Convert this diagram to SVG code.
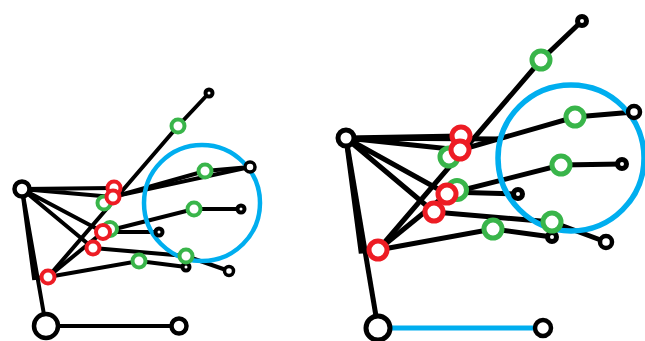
<svg xmlns="http://www.w3.org/2000/svg" width="645" height="341" viewBox="0 0 645 341">
<style>
.a{fill:none;stroke:#000;stroke-linejoin:miter;stroke-linecap:butt}
.l{stroke-width:4px}.r{stroke-width:5px}
.n{fill:#fff;stroke:#000}
.t{fill:#fff;stroke:#000;stroke-width:4.5px}
.g{fill:#fff;stroke:#39b54a}
.e{fill:#fff;stroke:#ed1c24}
.h{fill:none;stroke:#00aeef}
</style>
<g id="connectors-left" class="a l">
<path d="M22 189L46 326L179 326"/>
<path d="M22 189L34 278L48 277"/>
<path d="M22 189L114 188M22 189L113 197M22 189L93 248M22 189L103 232"/>
<path d="M48 277L178 126L209 93"/>
<path d="M48 277L103 232"/>
<path d="M113 197L205 171L250 167"/>
<path d="M103 232L194 209L241 209"/>
<path d="M93 248L186 256L229 271"/>
<path d="M48 277L139 261L186 267"/>
<path d="M104 232L159 232"/>
<path d="M114 188L112 197L250 167"/>
</g>
<g id="connectors-right" class="a r">
<path d="M346 138L378 328"/>
<path d="M346 138L361 251L378 250"/>
<path d="M346 138L461 136M346 138L460 150M346 138L434 212M346 138L447 194M346 138L500 139"/>
<path d="M378 250L541 60L582 21"/>
<path d="M378 250L447 194"/>
<path d="M460 150L575 117L634 112"/>
<path d="M447 194L561 165L622 164"/>
<path d="M434 212L552 222L606 242"/>
<path d="M378 250L493 229L552 237"/>
<path d="M447 192L518 194"/>
</g>
<path d="M378 328L543 328" fill="none" stroke="#00aeef" stroke-width="5"/>
<g id="circle-left"><circle class="h" cx="202" cy="203" r="58" stroke-width="4.5"/></g>
<g id="circle-right"><circle class="h" cx="571" cy="158" r="73" stroke-width="5.5"/></g>
<g id="nodes-left">
<g id="l-root"><circle class="n" cx="22" cy="189" r="7.5" stroke-width="4.5"/></g>
<g id="l-bottom"><circle class="n" cx="46" cy="326" r="12" stroke-width="4.5"/></g>
<g id="l-end"><circle class="n" cx="179" cy="326" r="7.5" stroke-width="4.5"/></g>
<g id="l-t1"><circle class="n" cx="209" cy="93" r="3.5" stroke-width="4"/></g>
<g id="l-t2"><circle class="n" cx="250" cy="167" r="5" stroke-width="3.5"/></g>
<g id="l-t3"><circle class="n" cx="241" cy="209" r="3.5" stroke-width="4"/></g>
<g id="l-t4"><circle class="n" cx="159" cy="232" r="3.5" stroke-width="4"/></g>
<g id="l-t5"><circle class="n" cx="186" cy="267" r="3.5" stroke-width="4"/></g>
<g id="l-t6"><circle class="n" cx="229" cy="271" r="4.5" stroke-width="3.5"/></g>
<g id="l-g1"><circle class="g" cx="104" cy="203" r="6.5" stroke-width="4"/></g>
<g id="l-g2"><circle class="g" cx="110" cy="229" r="7" stroke-width="4"/></g>
<g id="l-g3"><circle class="g" cx="139" cy="261" r="6.5" stroke-width="4"/></g>
<g id="l-g4"><circle class="g" cx="186" cy="256" r="6.5" stroke-width="4"/></g>
<g id="l-g5"><circle class="g" cx="178" cy="126" r="6.5" stroke-width="4"/></g>
<g id="l-g6"><circle class="g" cx="205" cy="171" r="6.5" stroke-width="4"/></g>
<g id="l-g7"><circle class="g" cx="194" cy="209" r="6.5" stroke-width="4"/></g>
<g id="l-r1"><circle class="e" cx="48" cy="277" r="6.5" stroke-width="4"/></g>
<g id="l-r2"><circle class="e" cx="93" cy="248" r="6.5" stroke-width="4"/></g>
<g id="l-r3"><circle class="e" cx="103" cy="232" r="7" stroke-width="4"/></g>
<g id="l-r4"><circle class="e" cx="114" cy="188" r="6.5" stroke-width="4"/></g>
<g id="l-r5"><circle class="e" cx="113" cy="197" r="6.5" stroke-width="4"/></g>
</g>
<g id="nodes-right">
<g id="r-root"><circle class="n" cx="346" cy="138" r="8" stroke-width="5"/></g>
<g id="r-bottom"><circle class="n" cx="378" cy="328" r="12" stroke-width="5"/></g>
<g id="r-end"><circle class="n" cx="543" cy="328" r="8" stroke-width="4.5"/></g>
<g id="r-t1"><circle class="n" cx="582" cy="21" r="4.5" stroke-width="5"/></g>
<g id="r-t2"><circle class="n" cx="634" cy="112" r="6" stroke-width="4.5"/></g>
<g id="r-t3"><circle class="n" cx="622" cy="164" r="4.5" stroke-width="5"/></g>
<g id="r-t4"><circle class="n" cx="518" cy="194" r="4.5" stroke-width="5"/></g>
<g id="r-t5"><circle class="n" cx="552" cy="237" r="4.5" stroke-width="5"/></g>
<g id="r-t6"><circle class="n" cx="606" cy="242" r="6" stroke-width="4.5"/></g>
<g id="r-g1"><circle class="g" cx="449" cy="157" r="9" stroke-width="5"/></g>
<g id="r-g2"><circle class="g" cx="457" cy="190" r="9.5" stroke-width="5"/></g>
<g id="r-g3"><circle class="g" cx="493" cy="229" r="9" stroke-width="5"/></g>
<g id="r-g4"><circle class="g" cx="552" cy="222" r="9" stroke-width="5"/></g>
<g id="r-g5"><circle class="g" cx="541" cy="60" r="9" stroke-width="5"/></g>
<g id="r-g6"><circle class="g" cx="575" cy="117" r="9" stroke-width="5"/></g>
<g id="r-g7"><circle class="g" cx="561" cy="165" r="9" stroke-width="5"/></g>
<g id="r-r1"><circle class="e" cx="378" cy="250" r="9" stroke-width="5"/></g>
<g id="r-r2"><circle class="e" cx="434" cy="212" r="9" stroke-width="5"/></g>
<g id="r-r3"><circle class="e" cx="447" cy="194" r="9" stroke-width="5"/></g>
<g id="r-r4"><circle class="e" cx="461" cy="136" r="9" stroke-width="5"/></g>
<g id="r-r5"><circle class="e" cx="460" cy="150" r="9" stroke-width="5"/></g>
</g>
</svg>
